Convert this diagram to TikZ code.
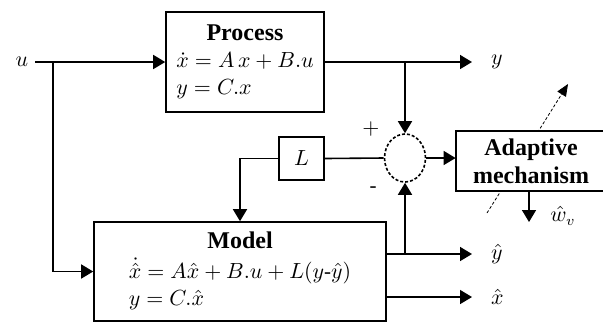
\documentclass[tikz,border=0pt]{standalone}
\usepackage{fontspec}
\setmainfont{Liberation Serif}
\usepackage{amsmath}
\usetikzlibrary{positioning, calc, shapes.geometric, arrows.meta, backgrounds}

\begin{document}
\begin{tikzpicture}[
        x=0.5pt, y=-0.5pt,
        font=\fontsize{10.5}{13.5}\selectfont,
        block/.style={rectangle, draw=black, thick, fill=white, inner sep=1pt},
        title/.style={font=\fontsize{12}{14}\selectfont\bfseries},
        sumnode/.style={ellipse, draw=black, thick, dash pattern=on 1.5pt off 1pt, minimum width=20.5pt, minimum height=24pt, inner sep=0pt},
        sig/.style={thick, -{Triangle[length=6pt,width=7pt]}},
        tune/.style={thin, dash pattern=on 1.5pt off 1pt, -{Triangle[length=6pt,width=5pt]}}
    ]
        \useasboundingbox (0,0) rectangle (603,323);

        % Blocks
        \node[block, minimum width=79pt, minimum height=50pt] (proc) at (245,62)
            {\begin{tabular}{@{}l@{}}\multicolumn{1}{@{}c@{}}{\fontsize{12}{14}\selectfont\bfseries Process}\\ $\dot{x} = A\,x + B.u$\\ $y = C.x$\end{tabular}};
        \node[block, minimum width=146pt, minimum height=49.5pt] (model) at (240,271.5)
            {\begin{tabular}{@{}l@{}}\multicolumn{1}{@{}c@{}}{\fontsize{12}{14}\selectfont\bfseries Model}\\[1pt] $\dot{\hat{x}} = A\hat{x} + B.u + L(y\text{-}\hat{y})$\\ $y = C.\hat{x}$\end{tabular}};
        \node[block, minimum width=22.5pt, minimum height=21.5pt] (gain) at (301.5,158.5) {$L$};
        \node[sumnode] (sum) at (405,158) {};
        % adaptive block runs past the right edge
        \fill[white] (456,131) rectangle (640,191);
        \draw[thick] (640,131) -- (456,131) -- (456,191) -- (640,191);
        \node[title, align=center, inner sep=0pt, minimum width=75pt, minimum height=30pt] (adapt) at (531,161) {Adaptive\\mechanism};

        % Signals
        \node (u) at (22,62) {$u$};
        \coordinate (usplit) at (53,62);
        \coordinate (yend) at (472,62);
        \coordinate (yhend) at (472,254);
        \coordinate (xhend) at (472,297);
        \coordinate (wend) at (529,222);
        \node[right=6pt of yend] (ylab) {$y$};
        \node[right=6pt of yhend] (yhlab) {$\hat{y}$};
        \node[right=6pt of xhend] (xhlab) {$\hat{x}$};
        \node (wlab) at (563,216) {$\hat{w}_v$};
        \node (plus) at (371,129) {$+$};
        \node (minus) at (373,190) {-};

        % Arrows
        \draw[sig] (u.east) -- (proc.west);
        \draw[sig] (usplit) |- (model.west);
        \draw[sig] (proc.east) -- (yend);
        \draw[sig] (sum |- yend) -- (sum.north);
        \draw[thick] (sum.west) -- (gain.east);
        \draw[sig] (gain.west) -| (model.north);
        \draw[sig] (model.east |- yhend) -- (yhend);
        \draw[sig] (sum |- yhend) -- (sum.south);
        \draw[sig] (model.east |- xhend) -- (xhend);
        \draw[sig] (sum.east) -- (sum.east -| adapt.west);
        \draw[sig] (adapt.south -| wend) -- (wend);

        % Tuning arrow behind the adaptive block
        \coordinate (tunefrom) at (487,213);
        \coordinate (tuneto) at (568,84);
        \begin{scope}[on background layer]
            \draw[tune] (tunefrom) -- (tuneto);
        \end{scope}
    \end{tikzpicture}
\end{document}
